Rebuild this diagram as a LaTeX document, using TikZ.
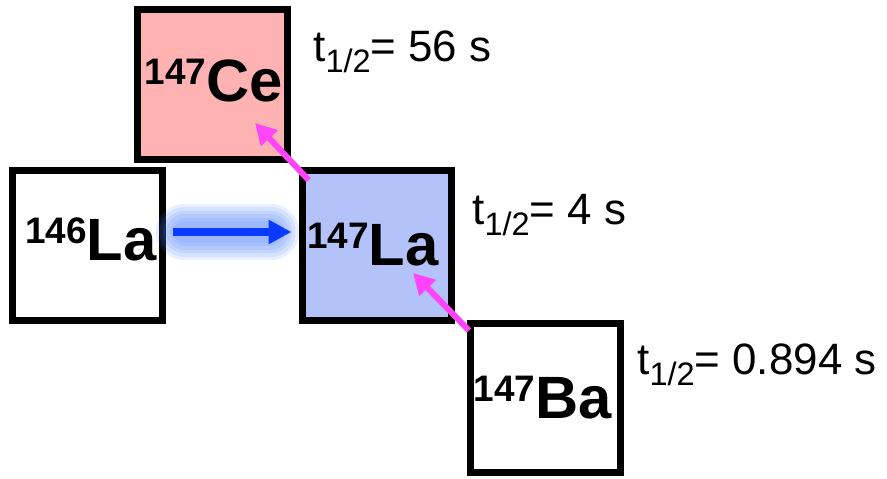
\documentclass[tikz,border=0pt]{standalone}
\usepackage{fontspec}
\setmainfont{Liberation Sans}
\usetikzlibrary{arrows.meta,positioning,calc}
\definecolor{cefill}{RGB}{255,178,178}
\definecolor{lafill}{RGB}{180,194,250}
\definecolor{pinkarr}{RGB}{255,68,250}
\definecolor{bluearr}{RGB}{10,58,255}
\definecolor{blueglow}{RGB}{80,130,255}
\newcommand{\nucl}[2]{\raisebox{10pt}{\fontsize{21}{25}\selectfont #1}#2}
\newcommand{\thalf}{t\raisebox{-6pt}{\fontsize{18.5}{22}\selectfont 1/2}}

\begin{document}
\begin{tikzpicture}[x=0.02cm,y=-0.02cm,
    nuc/.style={draw=black, line width=0.14cm, minimum size=3cm, inner sep=0pt},
    elem/.style={anchor=base east, inner sep=0pt, font=\fontsize{34}{40}\selectfont\bfseries},
    half/.style={anchor=base west, inner sep=0pt, font=\fontsize{25}{30}\selectfont},
    decay/.style={-{Triangle[length=0.42cm,width=0.44cm]}, line width=0.12cm, draw=pinkarr},
    capture/.style={-{Triangle[length=0.46cm,width=0.46cm]}, line width=0.15cm, draw=bluearr}]
    \useasboundingbox (0,0) rectangle (887,479);

    % 核種の箱
    \node[nuc, fill=cefill] (Ce) at (212.5,84.5) {};
    \node[nuc, fill=white] (La146) at (87.5,245.5) {};
    \node[nuc, fill=lafill] (La147) at (377,245.5) {};
    \node[nuc, fill=white] (Ba) at (545.5,398) {};

    % 核種のラベル
    \node[elem] (CeName) at (283,102) {\nucl{147}{Ce}};
    \node[elem] (La146Name) at (157,261) {\nucl{146}{La}};
    \node[elem] (La147Name) at (439,266) {\nucl{147}{La}};
    \node[elem] (BaName) at (612,419) {\nucl{147}{Ba}};

    % 半減期
    \node[half] (CeHalf) at (313,62) {\thalf= 56 s};
    \node[half] (LaHalf) at (472,225) {\thalf= 4 s};
    \node[half] (BaHalf) at (637,375) {\thalf= 0.894 s};

    % 中性子捕獲
    \foreach \w in {32pt,28pt,24pt,20pt,16pt,12pt}
        \draw[line width=\w, line cap=round, draw=blueglow, draw opacity=0.13,
            shorten <=0.36cm, shorten >=0.55cm]
            ([yshift=0.27cm]La146.east) -- ([yshift=0.27cm]La147.west);
    \draw[capture, shorten <=0.15cm, shorten >=0.14cm]
        ([yshift=0.27cm]La146.east) -- ([yshift=0.27cm]La147.west);

    % ベータ崩壊
    \draw[decay] ($(Ba.north west)+(2,11)$) -- ($(La147)+(36,27.5)$);
    \draw[decay] ($(La147.north west)+(10,13)$) -- ($(Ce)+(42.5,38.5)$);
\end{tikzpicture}
\end{document}
